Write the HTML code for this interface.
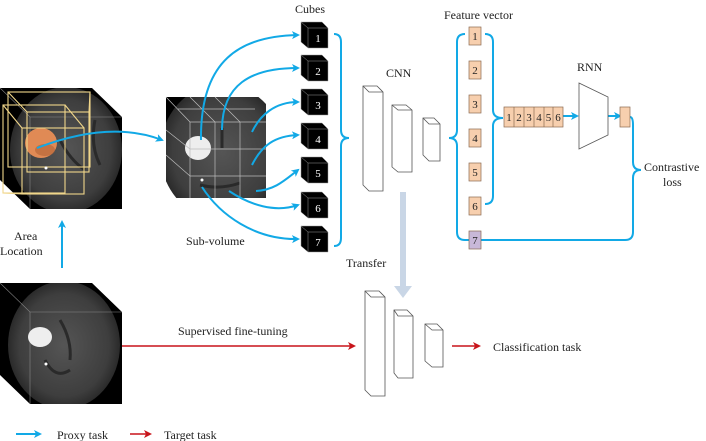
<!DOCTYPE html>
<html><head><meta charset="utf-8"><style>
html,body{margin:0;padding:0;background:#fff}
svg{display:block}
text{font-family:"Liberation Serif",serif;fill:#222}
</style></head><body>
<svg width="706" height="441" viewBox="0 0 706 441" xmlns="http://www.w3.org/2000/svg">
<defs>
<radialGradient id="br" cx="50%" cy="50%" r="50%">
<stop offset="0" stop-color="#555"/><stop offset="0.8" stop-color="#3e3e3e"/><stop offset="1" stop-color="#2a2a2a"/>
</radialGradient>
<marker id="ab" markerWidth="8" markerHeight="8" refX="6" refY="4" orient="auto" markerUnits="userSpaceOnUse"><path d="M0,0 L8,4 L0,8 L2,4z" fill="#12a9e6"/></marker>
<marker id="ar" markerWidth="8" markerHeight="8" refX="6" refY="4" orient="auto" markerUnits="userSpaceOnUse"><path d="M0,0 L8,4 L0,8 L2,4z" fill="#c8141a"/></marker>
<clipPath id="c1"><rect x="0" y="88" width="122" height="121"/></clipPath>
<clipPath id="c2"><rect x="166" y="97" width="100" height="101"/></clipPath>
<clipPath id="c3"><rect x="0" y="283" width="122" height="121"/></clipPath>
</defs>

<!-- left cube -->
<polygon points="0,88 92,88 122,117 122,209 30,209 0,180" fill="#000"/>
<g clip-path="url(#c1)"><ellipse cx="66" cy="150" rx="56" ry="63" fill="url(#br)"/>
<path d="M60,140 q10,20 25,30 M95,120 q-5,25 5,45" stroke="#2a2a2a" stroke-width="3" fill="none"/></g>
<polyline points="0,88 30,117 122,117" fill="none" stroke="#888" stroke-width="0.6"/>
<line x1="30" y1="117" x2="30" y2="209" stroke="#888" stroke-width="0.6"/>
<ellipse cx="41" cy="143" rx="16" ry="15" fill="#e08a55"/>
<ellipse cx="45" cy="150" rx="10" ry="6" fill="#a85a30" opacity="0.5"/>
<g fill="none" stroke="#f0d68a" stroke-width="1.1">
<rect x="3" y="105" width="62" height="88"/><rect x="8" y="92" width="82" height="75"/>
<rect x="22" y="128" width="62" height="66"/><rect x="27" y="112" width="62" height="60"/>
<line x1="8" y1="92" x2="27" y2="112"/><line x1="90" y1="92" x2="89" y2="112"/>
<line x1="3" y1="105" x2="22" y2="128"/><line x1="65" y1="105" x2="84" y2="128"/>
<line x1="3" y1="193" x2="22" y2="194"/>
</g>
<circle cx="46" cy="168" r="1.5" fill="#fff"/>

<!-- middle cube -->
<polygon points="166,97 242,97 266,122 266,198 190,198 166,173" fill="#000"/>
<g clip-path="url(#c2)"><ellipse cx="222" cy="152" rx="62" ry="68" fill="url(#br)"/>
<path d="M222,128 l0,20 M200,185 q20,5 40,-2" stroke="#2a2a2a" stroke-width="3" fill="none"/></g>
<ellipse cx="198" cy="148" rx="13" ry="12" fill="#eee"/>
<g stroke="#bbb" stroke-width="0.7" fill="none">
<polyline points="166,97 190,122 266,122"/>
<line x1="190" y1="122" x2="190" y2="198"/><line x1="215" y1="122" x2="215" y2="198"/><line x1="240" y1="122" x2="240" y2="198"/>
<line x1="190" y1="149" x2="266" y2="149"/><line x1="190" y1="176" x2="266" y2="176"/>
<line x1="178" y1="109" x2="255" y2="109"/><line x1="190" y1="97" x2="215" y2="122"/><line x1="215" y1="97" x2="240" y2="122"/>
<line x1="166" y1="130" x2="190" y2="149"/><line x1="166" y1="155" x2="190" y2="176"/>
</g>
<circle cx="202" cy="180" r="1.5" fill="#fff"/>

<!-- bottom cube -->
<polygon points="0,283 92,283 122,312 122,404 30,404 0,375" fill="#000"/>
<g clip-path="url(#c3)"><ellipse cx="64" cy="345" rx="56" ry="64" fill="url(#br)"/>
<path d="M60,320 q12,20 10,40 M45,360 q10,20 25,10" stroke="#2a2a2a" stroke-width="3" fill="none"/></g>
<polyline points="0,283 30,312 122,312" fill="none" stroke="#888" stroke-width="0.6"/>
<line x1="30" y1="312" x2="30" y2="404" stroke="#888" stroke-width="0.6"/>
<ellipse cx="40" cy="337" rx="12" ry="10" fill="#eee"/>
<circle cx="46" cy="364" r="1.5" fill="#fff"/>

<!-- small cubes -->
<g fill="#000" stroke="#999" stroke-width="0.5">
<polygon points="301,22 322,22 328,28 328,48 308,48 301,42"/>
<polygon points="301,55 322,55 328,61 328,81 308,81 301,75"/>
<polygon points="301,89 322,89 328,95 328,115 308,115 301,109"/>
<polygon points="301,123 322,123 328,129 328,149 308,149 301,143"/>
<polygon points="301,157 322,157 328,163 328,183 308,183 301,177"/>
<polygon points="301,192 322,192 328,198 328,218 308,218 301,212"/>
<polygon points="301,226 322,226 328,232 328,252 308,252 301,246"/>
</g>
<g fill="none" stroke="#999" stroke-width="0.5">
<path d="M301,22 308,28 328,28 M308,28 308,48"/>
<path d="M301,55 308,61 328,61 M308,61 308,81"/>
<path d="M301,89 308,95 328,95 M308,95 308,115"/>
<path d="M301,123 308,129 328,129 M308,129 308,149"/>
<path d="M301,157 308,163 328,163 M308,163 308,183"/>
<path d="M301,192 308,198 328,198 M308,198 308,218"/>
<path d="M301,226 308,232 328,232 M308,232 308,252"/>
</g>
<g font-size="11" text-anchor="middle">
<text x="318" y="42" style="fill:#fff">1</text><text x="318" y="75" style="fill:#fff">2</text><text x="318" y="109" style="fill:#fff">3</text>
<text x="318" y="143" style="fill:#fff">4</text><text x="318" y="177" style="fill:#fff">5</text><text x="318" y="212" style="fill:#fff">6</text><text x="318" y="246" style="fill:#fff">7</text>
</g>

<!-- cube arrows -->
<g fill="none" stroke="#12a9e6" stroke-width="2" marker-end="url(#ab)">
<path d="M37,148 Q110,120 162,140"/>
<path d="M201,140 C200,60 240,36 298,35"/>
<path d="M222,130 C222,85 250,68 298,68"/>
<path d="M252,132 C260,115 275,102 298,102"/>
<path d="M252,165 C262,145 275,136 298,135"/>
<path d="M256,191 C275,190 285,180 298,170"/>
<path d="M229,191 C250,205 275,213 298,205"/>
<path d="M202,187 C220,215 255,240 298,239"/>
<path d="M62,268 L62,222"/>
<path d="M563,116 L577,116"/>
<path d="M608,116 L620,116"/>
<path d="M16,434 L40,434"/>
</g>

<!-- braces -->
<g fill="none" stroke="#12a9e6" stroke-width="2">
<path d="M334,34 q7,0 7,8 L341,130 q0,8 8,8 q-8,0 -8,8 L341,238 q0,8 -7,8"/>
<path d="M465,34 q-8,0 -8,8 L457,130 q0,8 -8,8 q8,0 8,8 L457,232 q0,8 8,8 L481,240 L625,240 q8,0 8,-8 L633,178 q0,-8 8,-8 q-8,0 -8,-8 L633,125 q0,-8 -3,-8"/>
<path d="M485,34 q8,0 8,8 L493,110 q0,8 10,8 q-10,0 -10,8 L493,196 q0,8 -8,8"/>
</g>

<!-- CNN -->
<g fill="#fff" stroke="#555" stroke-width="0.8">
<polygon points="363,86 377,86 383,92 383,191 369,191 363,185"/><polyline points="363,86 369,92 383,92 M369,92 369,191" fill="none"/>
<polygon points="392,105 406,105 412,110 412,172 398,172 392,167"/><polyline points="392,105 398,110 412,110 M398,110 398,172" fill="none"/>
<polygon points="423,118 434,118 440,124 440,161 429,161 423,155"/><polyline points="423,118 429,124 440,124 M429,124 429,161" fill="none"/>
<polygon points="365,291 379,291 385,297 385,396 371,396 365,390"/><polyline points="365,291 371,297 385,297 M371,297 371,396" fill="none"/>
<polygon points="394,310 407,310 413,316 413,378 398,378 394,373"/><polyline points="394,310 398,316 413,316 M398,316 398,378" fill="none"/>
<polygon points="425,324 437,324 443,330 443,367 432,367 425,361"/><polyline points="425,324 432,330 443,330 M432,330 432,367" fill="none"/>
</g>

<rect x="400" y="192" width="6" height="95" fill="#c9d6e6"/>
<polygon points="394,286 412,286 403,298" fill="#c9d6e6"/>

<!-- feature vector -->
<g stroke="#8a6a50" stroke-width="0.7" fill="#f7cfae">
<rect x="469" y="27" width="12" height="18"/><rect x="469" y="61" width="12" height="18"/><rect x="469" y="95" width="12" height="18"/>
<rect x="469" y="129" width="12" height="18"/><rect x="469" y="163" width="12" height="18"/><rect x="469" y="197" width="12" height="18"/>
<rect x="469" y="231" width="12" height="18" fill="#c8b8d8"/>
<rect x="504" y="107" width="59" height="20"/>
<rect x="620" y="107" width="10" height="20"/>
<line x1="514" y1="107" x2="514" y2="127"/><line x1="524" y1="107" x2="524" y2="127"/><line x1="534" y1="107" x2="534" y2="127"/><line x1="544" y1="107" x2="544" y2="127"/><line x1="553" y1="107" x2="553" y2="127"/>
</g>
<g font-size="11" text-anchor="middle">
<text x="475" y="40">1</text><text x="475" y="74">2</text><text x="475" y="108">3</text><text x="475" y="142">4</text><text x="475" y="176">5</text><text x="475" y="210">6</text><text x="475" y="244">7</text>
<text x="509" y="121">1</text><text x="519" y="121">2</text><text x="529" y="121">3</text><text x="539" y="121">4</text><text x="548.5" y="121">5</text><text x="558" y="121">6</text>
</g>
<polygon points="579,83 608,97 608,135 579,149" fill="#fff" stroke="#555" stroke-width="0.8"/>

<g stroke="#c8141a" stroke-width="1.6" fill="none" marker-end="url(#ar)">
<path d="M122,346 L354,346"/><path d="M452,346 L479,346"/><path d="M130,434 L150,434"/>
</g>

<g font-size="12">
<text x="295" y="13">Cubes</text>
<text x="444" y="19">Feature vector</text>
<text x="386" y="77">CNN</text>
<text x="577" y="71">RNN</text>
<text x="644" y="171">Contrastive</text>
<text x="663" y="186">loss</text>
<text x="186" y="245">Sub-volume</text>
<text x="14" y="240">Area</text>
<text x="0" y="255">Location</text>
<text x="346" y="267">Transfer</text>
<text x="178" y="335">Supervised fine-tuning</text>
<text x="493" y="351">Classification task</text>
<text x="57" y="439">Proxy task</text>
<text x="164" y="439">Target task</text>
</g>
</svg>
</body></html>
